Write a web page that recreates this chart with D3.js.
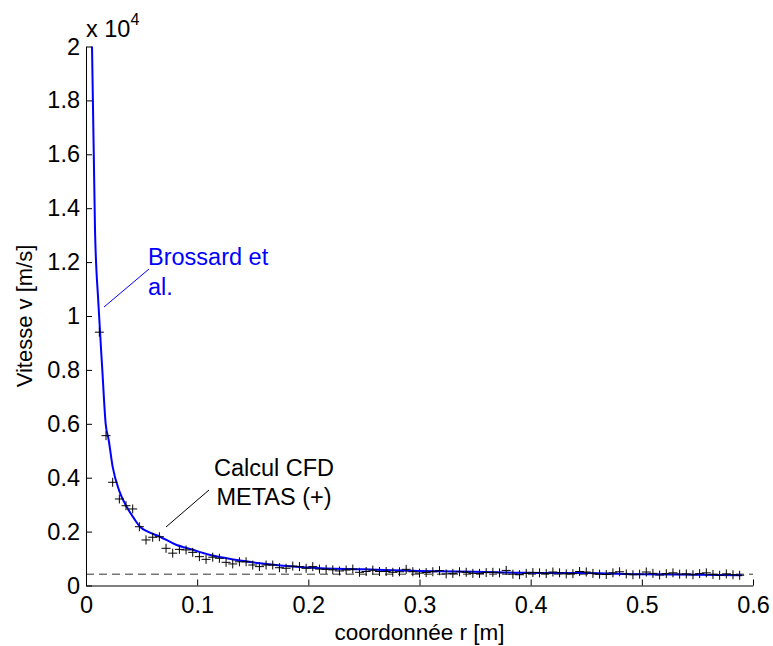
<!DOCTYPE html>
<html><head><meta charset="utf-8">
<script src="https://cdn.jsdelivr.net/npm/d3@7"></script>
<style>
body{margin:0;background:#fff}
text{font-family:"Liberation Sans",Arial,Helvetica,sans-serif}
</style></head>
<body><svg id="c" width="773" height="646"></svg>
<script>
// ---- data ----
const xTicks = [0, 0.1, 0.2, 0.3, 0.4, 0.5, 0.6];
const yTicks = [0, 2000, 4000, 6000, 8000, 10000, 12000, 14000, 16000, 18000, 20000];

// Brossard et al. (blue curve)
const curveR = [0.0054, 0.0081, 0.0111, 0.0147, 0.0177, 0.0204, 0.0240, 0.0300, 0.0366, 0.0430, 0.0486, 0.0560, 0.0666, 0.0800, 0.0966, 0.1100, 0.1266, 0.1566, 0.2016, 0.25, 0.30, 0.35, 0.40, 0.45, 0.50, 0.55, 0.59];
const curveV = [20000, 13200, 10500, 7980, 6000, 5400, 4400, 3500, 2920, 2500, 2180, 1990, 1810, 1530, 1317, 1150, 1009, 823, 660, 600, 540, 510, 470, 460, 420, 400, 380];

// Calcul CFD METAS (+)
const cfdR = [0.012, 0.018, 0.024, 0.030, 0.036, 0.042, 0.048, 0.054, 0.060, 0.066,
  0.072, 0.078, 0.084, 0.090, 0.096, 0.102, 0.108, 0.114, 0.120, 0.126,
  0.132, 0.138, 0.144, 0.150, 0.156, 0.162, 0.168, 0.174, 0.180, 0.186,
  0.192, 0.198, 0.204, 0.210, 0.216, 0.222, 0.228, 0.234, 0.240, 0.246,
  0.252, 0.258, 0.264, 0.270, 0.276, 0.282, 0.288, 0.294, 0.300, 0.306,
  0.312, 0.318, 0.324, 0.330, 0.336, 0.342, 0.348, 0.354, 0.360, 0.366,
  0.372, 0.378, 0.384, 0.390, 0.396, 0.402, 0.408, 0.414, 0.420, 0.426,
  0.432, 0.438, 0.444, 0.450, 0.456, 0.462, 0.468, 0.474, 0.480, 0.486,
  0.492, 0.498, 0.504, 0.510, 0.516, 0.522, 0.528, 0.534, 0.540, 0.546,
  0.552, 0.558, 0.564, 0.570, 0.576, 0.582, 0.588];
const cfdV = [9400, 5560, 3830, 3210, 2960, 2840, 2180, 1690, 1790, 1810,
  1380, 1200, 1340, 1320, 1230, 1070, 970, 1050, 1010, 860,
  800, 880, 880, 760, 700, 760, 760, 660, 640, 720,
  700, 640, 700, 610, 600, 580, 540, 575, 610, 490,
  520, 570, 520, 520, 490, 510, 600, 510, 460, 480,
  510, 550, 430, 450, 510, 490, 450, 450, 480, 490,
  470, 560, 420, 400, 450, 480, 470, 440, 500, 470,
  430, 440, 520, 500, 450, 420, 410, 470, 510, 430,
  400, 420, 500, 450, 390, 440, 470, 420, 430, 400,
  440, 470, 410, 380, 430, 400, 380];

const refLevel = 420; // dashed reference line

// ---- drawing ----
const svg = d3.select("#c");
const x = d3.scaleLinear().domain([0, 0.6]).range([86, 753]);
const y = d3.scaleLinear().domain([0, 20000]).range([585.5, 46.5]);
const FS = 23.5;

// dashed line
svg.append("line")
  .attr("x1", x(0)).attr("x2", x(0.6))
  .attr("y1", y(refLevel)).attr("y2", y(refLevel))
  .attr("stroke", "#333").attr("stroke-width", 1)
  .attr("stroke-dasharray", "8,5");

// curve
const curve = curveR.map((r, i) => [r, curveV[i]]);
svg.append("path")
  .attr("d", d3.line().curve(d3.curveMonotoneX).x(d => x(d[0])).y(d => y(d[1]))(curve))
  .attr("fill", "none").attr("stroke", "#0000ff").attr("stroke-width", 2);

// plus markers
const pts = cfdR.map((r, i) => [r, cfdV[i]]);
const pg = svg.append("g");
pts.forEach(d => {
  const cx = x(d[0]), cy = y(d[1]);
  pg.append("path")
    .attr("d", `M${cx - 4.5},${cy}H${cx + 4.5}M${cx},${cy - 4.5}V${cy + 4.5}`)
    .attr("stroke", "#000").attr("stroke-width", 1).attr("fill", "none");
});

// axes
const xAxis = d3.axisBottom(x).tickValues(xTicks).tickSizeInner(-6).tickSizeOuter(0).tickPadding(11)
  .tickFormat(d => String(+d.toFixed(1)));
const gx = svg.append("g").attr("transform", `translate(0,${y(0)})`).call(xAxis);
const yAxis = d3.axisLeft(y).tickValues(yTicks).tickSizeInner(-6).tickSizeOuter(0).tickPadding(6)
  .tickFormat(d => String(+(d / 1e4).toFixed(1)));
const gy = svg.append("g").attr("transform", `translate(${x(0)},0)`).call(yAxis);
[gx, gy].forEach(g => {
  g.selectAll("text").attr("font-size", FS).attr("fill", "#000")
    .attr("font-family", '"Liberation Sans",Arial,sans-serif');
  g.selectAll("line").attr("stroke", "#000");
  g.select(".domain").attr("stroke", "#000");
});

// exponent label
const ex = svg.append("text").attr("x", 86).attr("y", 37).attr("font-size", FS).attr("fill", "#000");
ex.append("tspan").text("x 10");
ex.append("tspan").attr("font-size", 16).attr("dy", -12).text("4");

// axis labels
svg.append("text").attr("x", x(0.3)).attr("y", 640).attr("text-anchor", "middle")
  .attr("font-size", 22.5).attr("fill", "#000").text("coordonnée r [m]");
svg.append("text").attr("transform", `translate(32,${y(10000)}) rotate(-90)`)
  .attr("text-anchor", "middle").attr("font-size", 22).attr("fill", "#000").text("Vitesse v [m/s]");

// annotations
svg.append("line").attr("x1", 104).attr("y1", 307).attr("x2", 149).attr("y2", 269)
  .attr("stroke", "#0000ff").attr("stroke-width", 1);
const tb = svg.append("text").attr("font-size", FS).attr("fill", "#0000ff");
tb.append("tspan").attr("x", 148).attr("y", 265).text("Brossard et");
tb.append("tspan").attr("x", 148).attr("y", 295).text("al.");

svg.append("line").attr("x1", 166).attr("y1", 527).attr("x2", 209).attr("y2", 490)
  .attr("stroke", "#000").attr("stroke-width", 1);
const tc = svg.append("text").attr("font-size", FS).attr("fill", "#000").attr("text-anchor", "middle");
tc.append("tspan").attr("x", 274).attr("y", 476).text("Calcul CFD");
tc.append("tspan").attr("x", 274).attr("y", 505).text("METAS (+)");
</script></body></html>
